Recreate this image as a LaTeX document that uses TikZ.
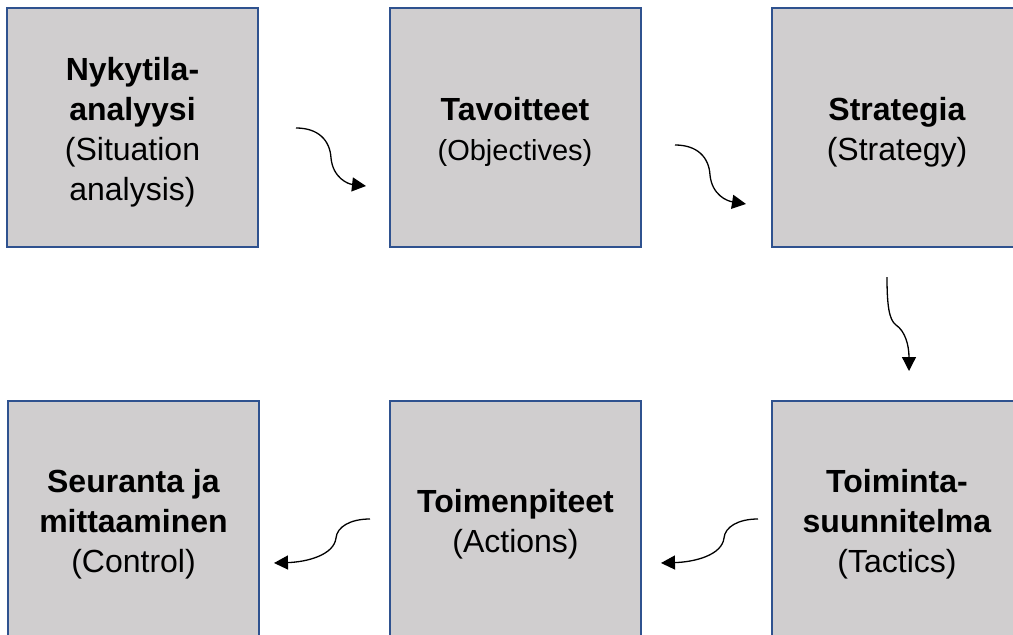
\documentclass[tikz,border=0pt]{standalone}
\usepackage{fontspec}
\setmainfont{Liberation Sans}
\usetikzlibrary{arrows.meta}
\definecolor{boxfill}{RGB}{208,206,207}
\definecolor{boxline}{RGB}{47,82,143}
% extra height above the first line, so the text sits a little lower
\newcommand{\toppad}{\rule{0pt}{32pt}}
\tikzset{
  stage/.style={draw=boxline, line width=2, fill=boxfill,
    minimum width=251, minimum height=239, inner sep=0,
    align=center, font=\fontsize{32}{40}\selectfont},
  flow/.style={line width=1.3, -{Triangle[length=14, width=14]}},
}
\begin{document}
\begin{tikzpicture}[x=1pt, y=-1pt]
  \useasboundingbox (0,0) rectangle (1013,635);
  \clip (0,0) rectangle (1013,635);
  % stages of the planning cycle
  \node[stage] (nyky) at (132.5,127.5) {\toppad\textbf{Nykytila-}\\\textbf{analyysi}\\(Situation\\analysis)};
  \node[stage] (tavo) at (515,127.5) {\toppad\textbf{Tavoitteet}\\{\fontsize{29}{40}\selectfont(Objectives)}};
  \node[stage] (stra) at (897,127.5) {\toppad\textbf{Strategia}\\(Strategy)};
  \node[stage] (toim) at (897,520) {\toppad\textbf{Toiminta-}\\\textbf{suunnitelma}\\(Tactics)};
  \node[stage] (tpit) at (515.5,520) {\toppad\textbf{Toimenpiteet}\\(Actions)};
  \node[stage] (seur) at (133.5,520) {\toppad\textbf{Seuranta ja}\\\textbf{mittaaminen}\\(Control)};
  % free ends of the wavy connectors
  \coordinate (a1s) at (296,128);  \coordinate (a1e) at (366,186);
  \coordinate (a2s) at (675,145);  \coordinate (a2e) at (746,204);
  \coordinate (a3s) at (887,277);  \coordinate (a3e) at (909,371);
  \coordinate (a4s) at (758,519);  \coordinate (a4e) at (661,563);
  \coordinate (a5s) at (370,519);  \coordinate (a5e) at (274,563);
  % wavy connectors
  \draw[flow] (a1s) .. controls (318,128) and (330,140) .. (331,158)
              .. controls (333,178) and (348,184) .. (a1e);
  \draw[flow] (a2s) .. controls (697,145) and (709,157) .. (710,175)
              .. controls (712,195) and (727,201) .. (a2e);
  \draw[flow] (a3s) .. controls (887,305) and (889,320) .. (896,325)
              .. controls (905,331) and (909,345) .. (a3e);
  \draw[flow] (a4s) .. controls (738,519) and (725,527) .. (724,538)
              .. controls (722,555) and (695,562) .. (a4e);
  \draw[flow] (a5s) .. controls (350,519) and (337,527) .. (336,538)
              .. controls (334,555) and (307,562) .. (a5e);
\end{tikzpicture}
\end{document}
